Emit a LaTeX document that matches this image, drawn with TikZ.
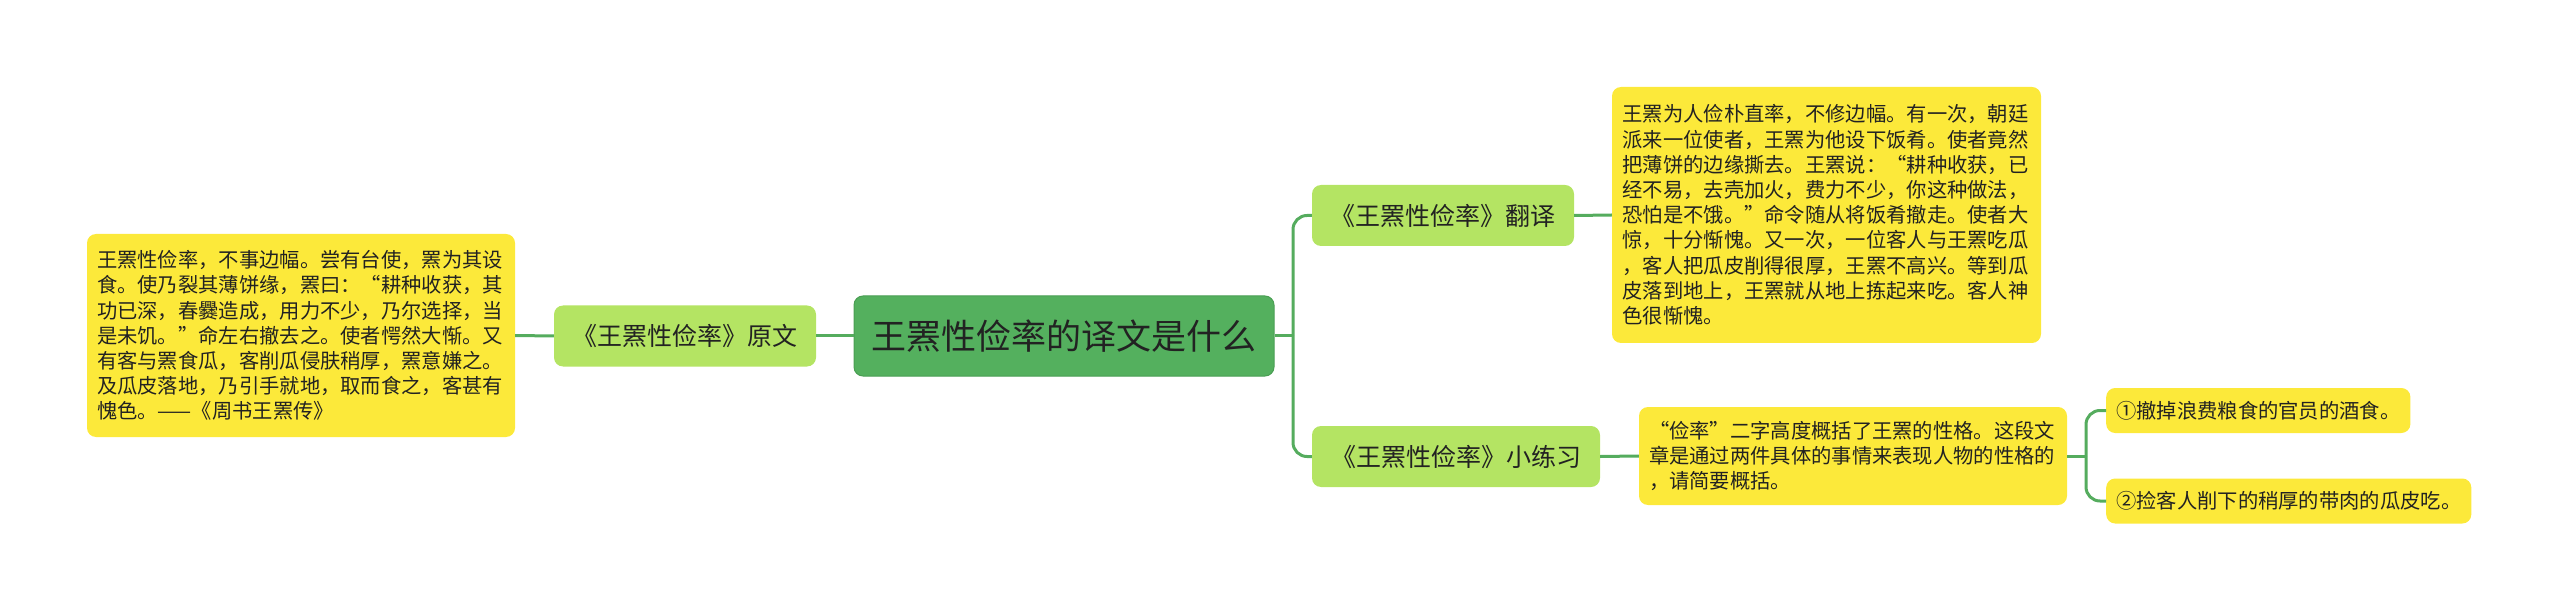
\documentclass[tikz,border=0pt]{standalone}
\usepackage{fontspec}
\setmainfont{Noto Sans CJK SC}
\definecolor{rootc}{HTML}{54B05E}
\definecolor{rootb}{HTML}{4A9E53}
\definecolor{branchc}{HTML}{B4E463}
\definecolor{leafc}{HTML}{FCE93A}
\definecolor{linec}{HTML}{55AC5E}
\definecolor{txt}{HTML}{222222}
\begin{document}
\begin{tikzpicture}[x=1pt,y=-1pt,
  conn/.style={draw=linec, line width=3pt},
  rootbox/.style={fill=rootc, draw=rootb, line width=1pt, rounded corners=9pt, inner sep=0pt,
    minimum width=420pt, minimum height=80pt, font=\fontsize{35}{40}\selectfont, text=txt},
  branchbox/.style={fill=branchc, rounded corners=9pt, inner sep=0pt, minimum height=61pt,
    font=\fontsize{25}{30}\selectfont, text=txt},
  leafbox/.style={fill=leafc, rounded corners=9pt, inner sep=0pt,
    font=\fontsize{20.3}{25.2}\selectfont, text=txt, align=left},
  itembox/.style={leafbox, inner xsep=10pt, minimum height=45pt, anchor=west},
]
\useasboundingbox (0,0) rectangle (2560,612);

\node[rootbox] (root) at (1064,336) {王罴性俭率的译文是什么};

\node[branchbox, minimum width=262pt] (yw) at (685,336) {《王罴性俭率》原文};
\node[leafbox, minimum width=428pt, minimum height=203pt, text width=408pt] (lw) at (301,335.5)
{王罴性俭率，不事边幅。尝有台使，罴为其设\\
食。使乃裂其薄饼缘，罴曰：“耕种收获，其\\
功已深，春爨造成，用力不少，乃尔选择，当\\
是未饥。”命左右撤去之。使者愕然大惭。又\\
有客与罴食瓜，客削瓜侵肤稍厚，罴意嫌之。\\
及瓜皮落地，乃引手就地，取而食之，客甚有\\
愧色。——《周书王罴传》};

\node[branchbox, minimum width=262pt] (fy) at (1443,215.5) {《王罴性俭率》翻译};
\node[leafbox, minimum width=429pt, minimum height=256pt, text width=408pt] (fyt) at (1826.5,215)
{王罴为人俭朴直率，不修边幅。有一次，朝廷\\
派来一位使者，王罴为他设下饭肴。使者竟然\\
把薄饼的边缘撕去。王罴说：“耕种收获，已\\
经不易，去壳加火，费力不少，你这种做法，\\
恐怕是不饿。”命令随从将饭肴撤走。使者大\\
惊，十分惭愧。又一次，一位客人与王罴吃瓜\\
，客人把瓜皮削得很厚，王罴不高兴。等到瓜\\
皮落到地上，王罴就从地上拣起来吃。客人神\\
色很惭愧。};

\node[branchbox, minimum width=288pt] (lx) at (1456,456.5) {《王罴性俭率》小练习};
\node[leafbox, minimum width=428pt, minimum height=98pt, text width=408pt] (lxt) at (1853,456)
{“俭率”二字高度概括了王罴的性格。这段文\\
章是通过两件具体的事情来表现人物的性格的\\
，请简要概括。};

\node[itembox] (i1) at (2106,410.5) {①撤掉浪费粮食的官员的酒食。};
\node[itembox] (i2) at (2106,501) {②捡客人削下的稍厚的带肉的瓜皮吃。};

\draw[conn] (root.west) -- (yw.west -| root.west) -- (yw.east);
\draw[conn] (yw.west) -- (lw.east);
\coordinate (j1) at (1293,336);
\draw[conn] (root.east) -- (j1);
\draw[conn, rounded corners=14pt] (j1) |- (fy.west);
\draw[conn, rounded corners=14pt] (j1) |- (lx.west);
\draw[conn] (fy.east) -- (fyt.west);
\draw[conn] (lx.east) -- (lxt.west);
\coordinate (j2) at (2086,456);
\draw[conn] (lxt.east) -- (j2);
\draw[conn, rounded corners=14pt] (j2) |- (i1.west);
\draw[conn, rounded corners=14pt] (j2) |- (i2.west);
\end{tikzpicture}
\end{document}
